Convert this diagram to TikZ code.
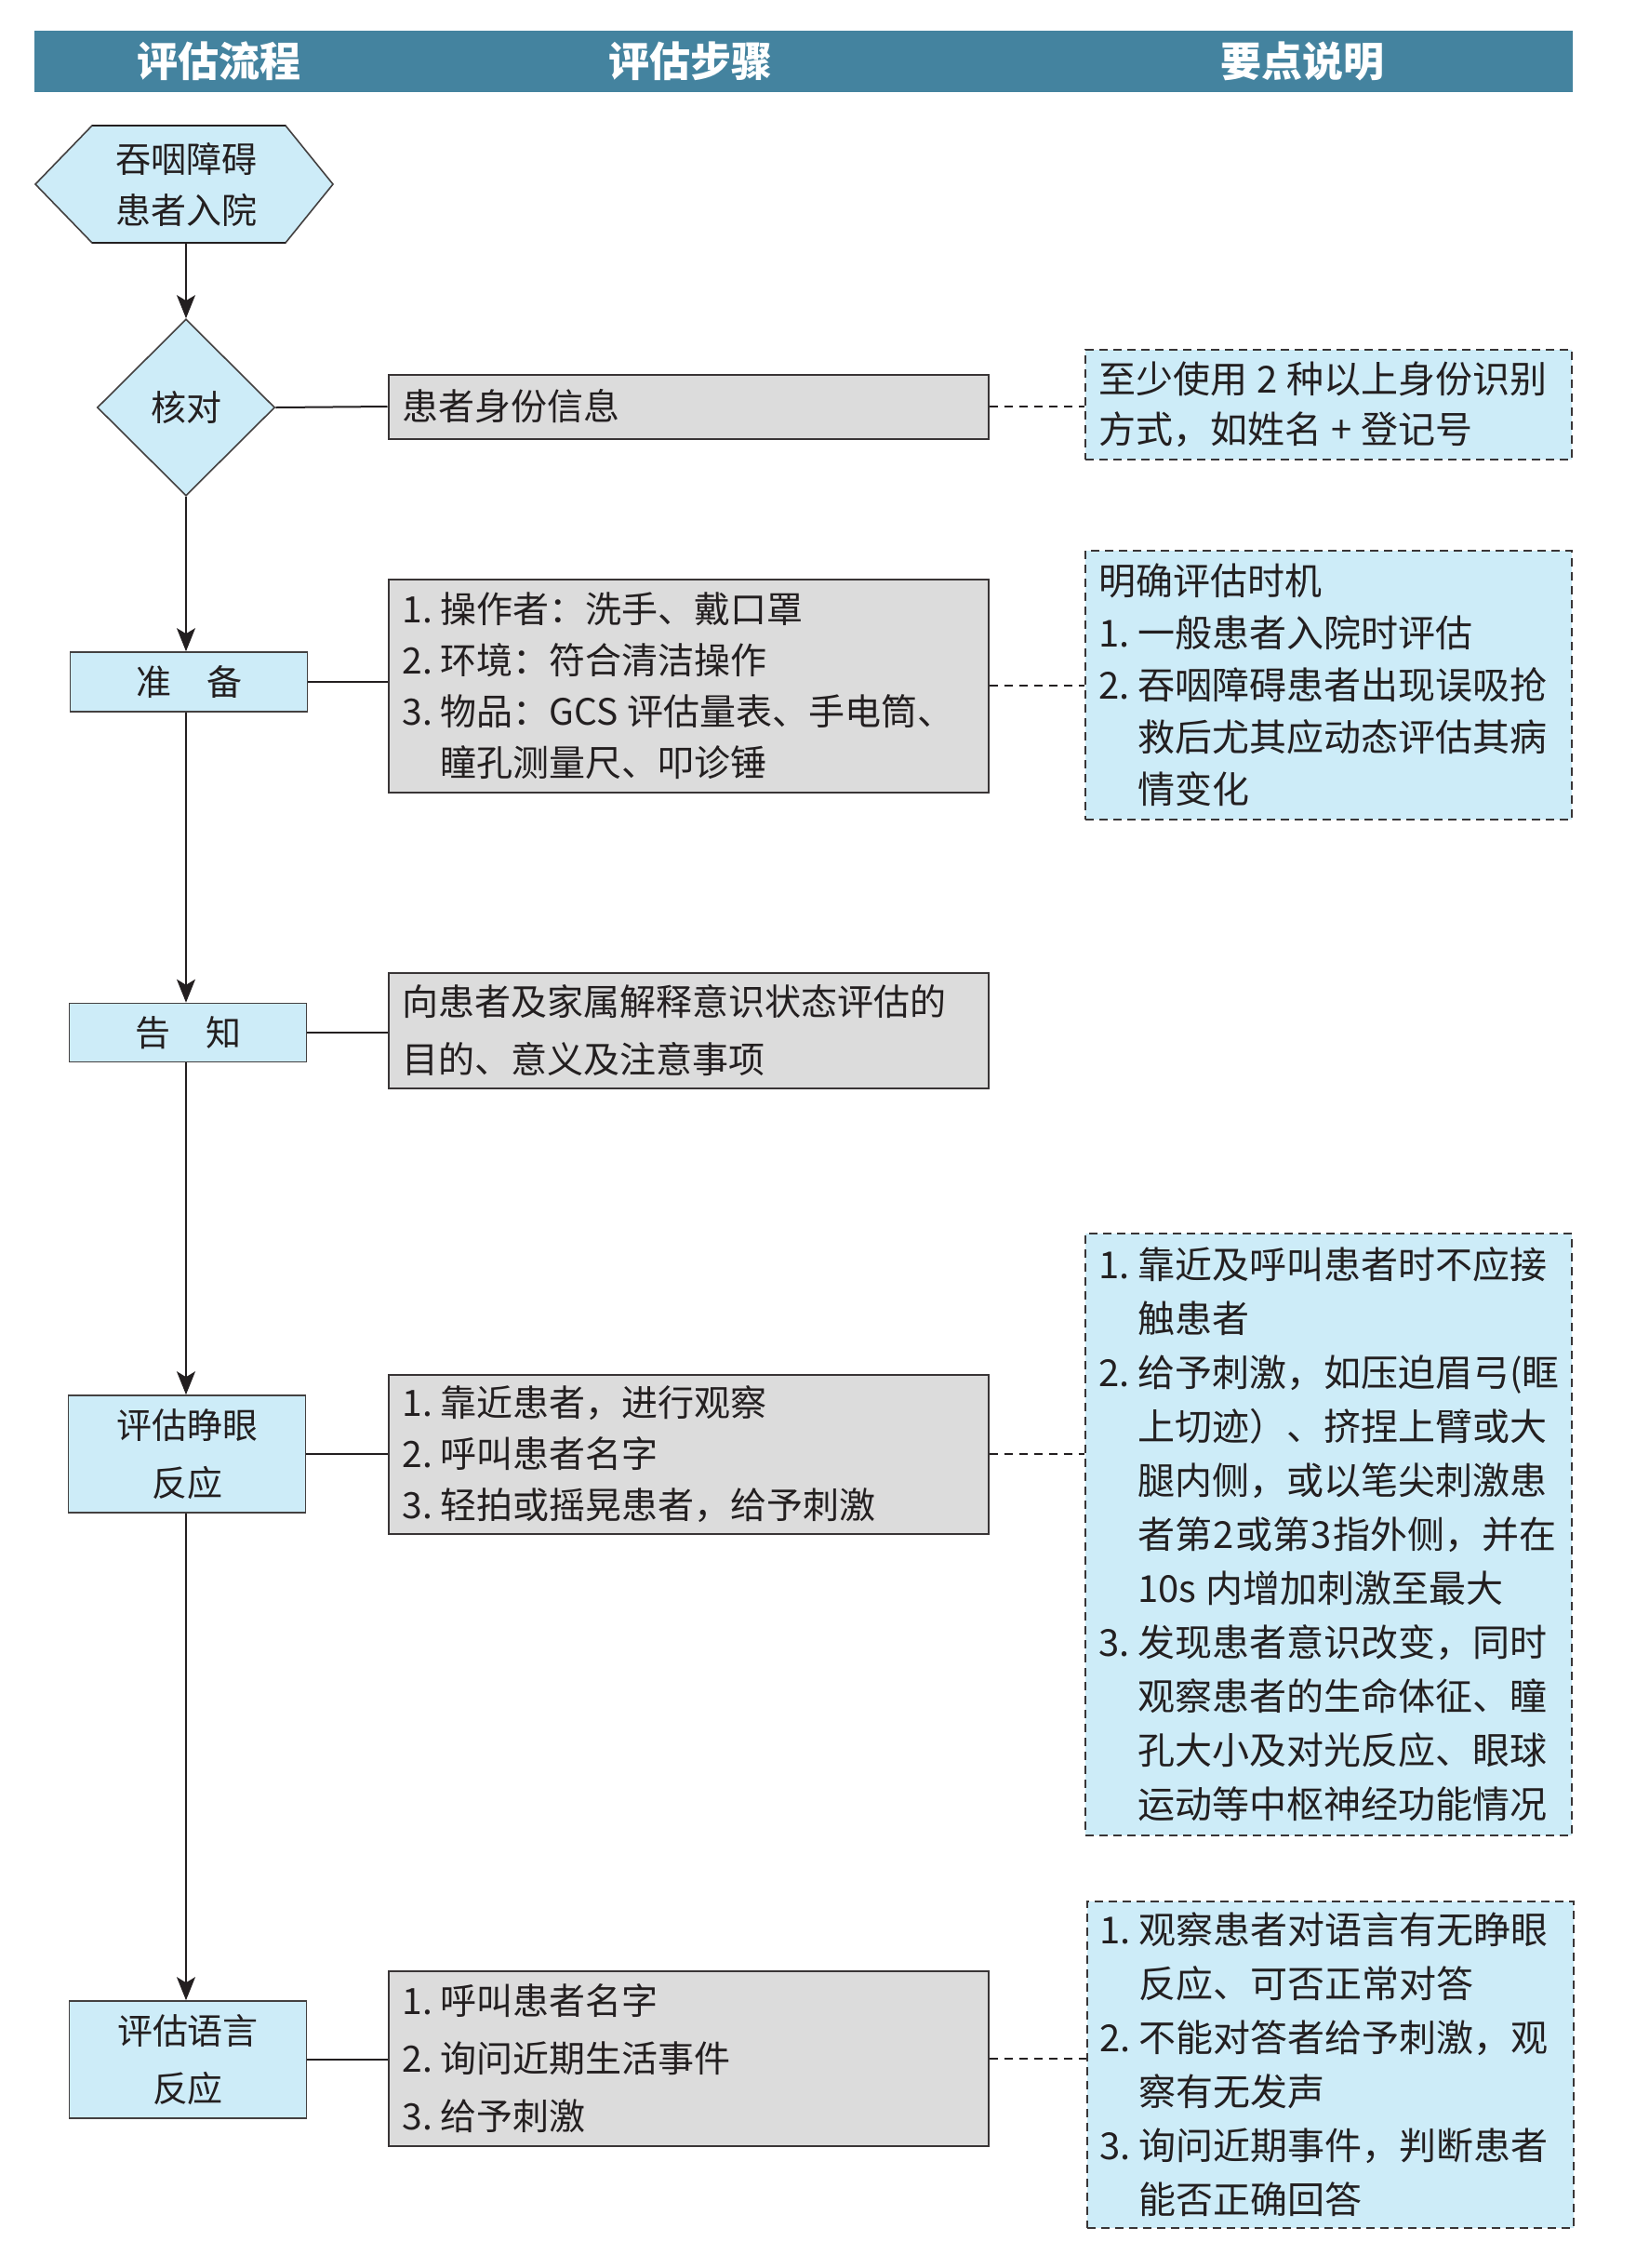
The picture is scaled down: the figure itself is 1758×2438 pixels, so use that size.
\documentclass[tikz,border=0pt]{standalone}
\usepackage{fontspec}
\setmainfont{Noto Sans CJK SC}
\usetikzlibrary{shapes.geometric,arrows.meta}
\definecolor{hdr}{HTML}{44839F}
\definecolor{lb}{HTML}{CDECF8}
\definecolor{gr}{HTML}{DCDCDC}
\definecolor{ink}{HTML}{231F20}
\newcommand{\ix}[1]{\makebox[1.05em][l]{#1}}
\newcommand{\ind}{\hspace*{1.05em}}
\newcommand{\ts}{\hspace{0.25em}}
\newcommand{\tts}{\hspace{0.04em}}
\begin{document}
\begin{tikzpicture}[x=0.5pt,y=-0.5pt,
  every node/.style={text=ink},
  flowbox/.style={draw=ink!85, line width=0.8pt, fill=lb, rectangle, inner sep=0pt,
    minimum width=127.5pt, align=center, font=\fontsize{19}{31}\selectfont},
  stepbox/.style={draw=ink!90, line width=1pt, fill=gr, rectangle, inner xsep=7.5pt, inner ysep=0pt,
    text width=307.5pt, align=left, font=\fontsize{19.5}{27.5}\selectfont},
  notebox/.style={draw=ink!90, line width=1pt, dash pattern=on 4.5pt off 3pt, fill=lb, rectangle,
    inner xsep=7pt, inner ysep=0pt, text width=247.5pt, align=left,
    font=\fontsize{20}{29}\selectfont},
  arr/.style={draw=ink, line width=0.6pt, -{Stealth[length=12.5pt,width=10pt,inset=3pt]}},
  solid link/.style={draw=ink, line width=1pt},
  dash link/.style={draw=ink, line width=1pt, dash pattern=on 4.5pt off 3.5pt}
]
\useasboundingbox (0,0) rectangle (1758,2438);
\fill[white] (0,0) rectangle (1758,2438);

% header
\fill[hdr] (37,33) rectangle (1691,99);
\node[text=white, font=\fontsize{22}{24}\selectfont\bfseries] (h1) at (235,66) {评估流程};
\node[text=white, font=\fontsize{22}{24}\selectfont\bfseries] (h2) at (742,66) {评估步骤};
\node[text=white, font=\fontsize{22}{24}\selectfont\bfseries] (h3) at (1400,66) {要点说明};

% hexagon start
\draw[draw=ink!85, line width=0.8pt, fill=lb] (38,198) -- (99,135) -- (307,135) -- (358,198) -- (307,261) -- (99,261) -- cycle;
\draw[ink, line width=1.4pt] (99,135) -- (307,135) (99,261) -- (307,261);
\node[inner sep=0pt, minimum width=160pt, minimum height=63pt, align=center,
  font=\fontsize{19}{27.5}\selectfont] (hex) at (200,198) {吞咽障碍\\患者入院};

% decision
\node[diamond, draw=ink!85, line width=0.8pt, fill=lb, inner sep=0pt,
  minimum width=95.5pt, minimum height=95pt, font=\fontsize{19}{24}\selectfont] (chk) at (200,438) {核对};

% left column
\node[flowbox, minimum height=32pt] (prep) at (203,733) {准\hspace{1em}备};
\node[flowbox, minimum height=31.5pt] (tell) at (202,1110) {告\hspace{1em}知};
\node[flowbox, minimum height=63pt] (eye) at (201,1563) {评估睁眼\\反应};
\node[flowbox, minimum height=63pt] (lang) at (202,2214) {评估语言\\反应};

% step boxes
\node[stepbox, minimum height=34.5pt] (s1) at (740,437) {患者身份信息};
\node[stepbox, minimum height=114.5pt] (s2) at (740,737) {\ix{1.}操作者：洗手、戴口罩\\\ix{2.}环境：符合清洁操作\\\mbox{\ix{3.}物品：GCS\ts 评估量表、手电筒、}\\\ind 瞳孔测量尺、叩诊锤};
\node[stepbox, minimum height=62pt, font=\fontsize{19.5}{31}\selectfont] (s3) at (740,1108) {向患者及家属解释意识状态评估的\\目的、意义及注意事项};
\node[stepbox, minimum height=85.5pt] (s4) at (740,1563) {\ix{1.}靠近患者，进行观察\\\ix{2.}呼叫患者名字\\\ix{3.}轻拍或摇晃患者，给予刺激};
\node[stepbox, minimum height=94pt, font=\fontsize{19.5}{31}\selectfont] (s5) at (740,2213) {\ix{1.}呼叫患者名字\\\ix{2.}询问近期生活事件\\\ix{3.}给予刺激};

% notes
\node[notebox, minimum height=59pt, font=\fontsize{20}{27}\selectfont] (n1) at (1428.5,435) {\mbox{至少使用\ts 2\ts 种以上身份识别}\\\mbox{方式，如姓名\ts +\ts 登记号}};
\node[notebox, minimum height=144.5pt, font=\fontsize{20}{28}\selectfont] (n2) at (1428.5,736.5) {明确评估时机\\\ix{1.}一般患者入院时评估\\\ix{2.}吞咽障碍患者出现误吸抢\\\ind 救后尤其应动态评估其病\\\ind 情变化};
\node[notebox, minimum height=323.5pt] (n4) at (1428.5,1649.5) {\ix{1.}靠近及呼叫患者时不应接\\\ind 触患者\\\ix{2.}给予刺激，如压迫眉弓(眶\\\ind 上切迹）、挤捏上臂或大\\\ind 腿内侧，或以笔尖刺激患\\\mbox{\ind 者第\tts 2\tts 或第\tts 3\tts 指外侧，并在}\\\mbox{\ind 10s\ts 内增加刺激至最大}\\\ix{3.}发现患者意识改变，同时\\\ind 观察患者的生命体征、瞳\\\ind 孔大小及对光反应、眼球\\\ind 运动等中枢神经功能情况};
\node[notebox, minimum height=175.5pt] (n5) at (1430,2219.5) {\ix{1.}观察患者对语言有无睁眼\\\ind 反应、可否正常对答\\\ix{2.}不能对答者给予刺激，观\\\ind 察有无发声\\\ix{3.}询问近期事件，判断患者\\\ind 能否正确回答};

% flow arrows
\draw[arr] (hex.south) -- (chk.north);
\draw[arr] (chk.south) -- (chk.south |- prep.north);
\draw[arr] (chk.south |- prep.south) -- (chk.south |- tell.north);
\draw[arr] (chk.south |- tell.south) -- (chk.south |- eye.north);
\draw[arr] (chk.south |- eye.south) -- (chk.south |- lang.north);

% solid links
\draw[solid link] (chk.east) -- (s1.west);
\draw[solid link] (prep.east) -- (prep.east -| s2.west);
\draw[solid link] (tell.east) -- (tell.east -| s3.west);
\draw[solid link] (eye.east) -- (eye.east -| s4.west);
\draw[solid link] (lang.east) -- (lang.east -| s5.west);

% dashed links
\draw[dash link] (s1.east) -- (s1.east -| n1.west);
\draw[dash link] (s2.east) -- (s2.east -| n2.west);
\draw[dash link] (s4.east) -- (s4.east -| n4.west);
\draw[dash link] (s5.east) -- (s5.east -| n5.west);
\end{tikzpicture}
\end{document}
